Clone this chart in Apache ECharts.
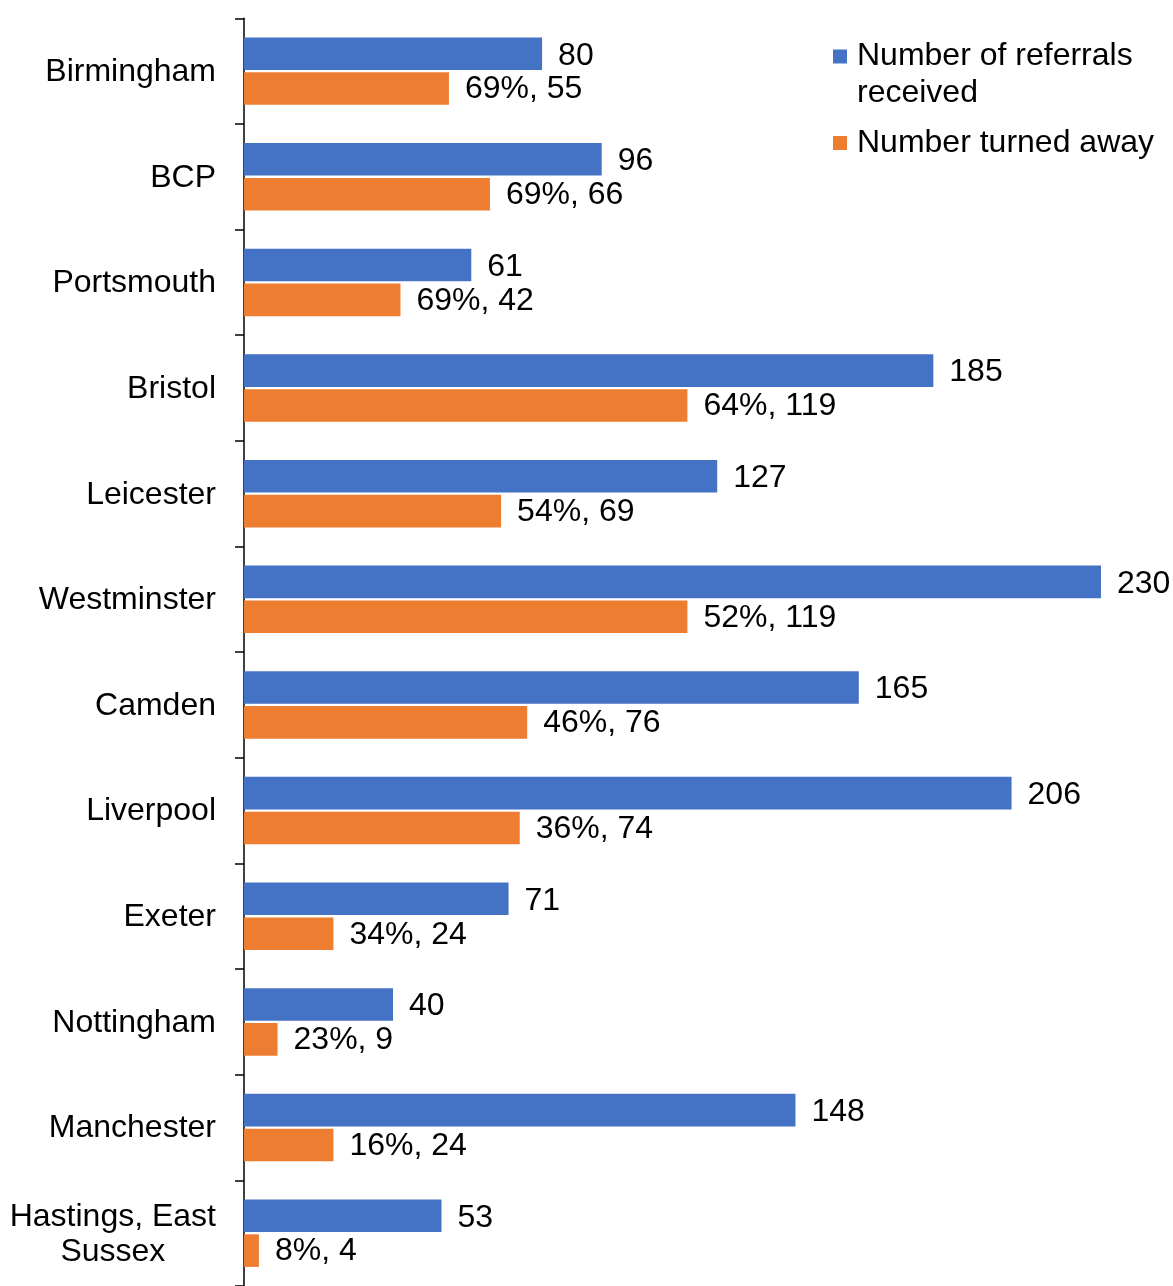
<!DOCTYPE html>
<html>
<head>
<meta charset="utf-8">
<script src="https://cdn.jsdelivr.net/npm/echarts@6/dist/echarts.min.js"></script>
<style>
  html, body { margin: 0; padding: 0; background: #fff; }
  #chart { width: 1173px; height: 1286px; }
</style>
</head>
<body>
<div id="chart"></div>
<script>
// Local authorities, top to bottom
const categories = [
  'Birmingham', 'BCP', 'Portsmouth', 'Bristol', 'Leicester', 'Westminster',
  'Camden', 'Liverpool', 'Exeter', 'Nottingham', 'Manchester', 'Hastings, East\nSussex'
];
// Referrals received per area
const referrals = [80, 96, 61, 185, 127, 230, 165, 206, 71, 40, 148, 53];
// Referrals turned away per area, and that count as a share of referrals
const turnedAway = [55, 66, 42, 119, 69, 119, 76, 74, 24, 9, 24, 4];
const turnedAwayPct = [69, 69, 69, 64, 54, 52, 46, 36, 34, 23, 16, 8];

const seriesNames = ['Number of referrals\nreceived', 'Number turned away'];

const FONT = 'Liberation Sans, Arial, sans-serif';
const FS = 32;
const BLUE = '#4472C4';
const ORANGE = '#ED7D31';

const chart = echarts.init(document.getElementById('chart'), null, { renderer: 'canvas' });

const legendText = { color: '#000', fontSize: FS, fontFamily: FONT, lineHeight: 37, padding: [0, 0, 0, 5] };

chart.setOption({
  animation: false,
  backgroundColor: '#fff',
  grid: { left: 244, right: 72, top: 18.3, height: 1271, containLabel: false },
  legend: [
    {
      data: [seriesNames[0]],
      left: 833, top: 1, padding: 0,
      icon: 'rect', itemWidth: 14, itemHeight: 14,
      // a blank leading line keeps the marker level with the caption's first line
      formatter: name => '\n' + name,
      textStyle: legendText
    },
    {
      data: [seriesNames[1]],
      left: 833, top: 124.5, padding: 0,
      icon: 'rect', itemWidth: 14, itemHeight: 14,
      textStyle: legendText
    }
  ],
  xAxis: {
    type: 'value', min: 0, max: 230,
    show: false, splitLine: { show: false }
  },
  yAxis: {
    type: 'category',
    inverse: true,
    data: categories,
    axisLine: { show: true, lineStyle: { color: '#000', width: 1.5 } },
    axisTick: { show: true, length: 9, lineStyle: { color: '#000', width: 1.5 } },
    axisLabel: {
      margin: 28,
      color: '#000',
      fontSize: FS,
      fontFamily: FONT,
      formatter: v => v.split('\n').map(s => '{c|' + s + '}').join('\n'),
      rich: { c: { align: 'center', fontSize: FS, fontFamily: FONT, color: '#000', lineHeight: 35, padding: [2, 0, 0, 0] } }
    }
  },
  series: [
    {
      name: seriesNames[0],
      type: 'bar',
      data: referrals,
      barWidth: 32.6,
      barGap: '7%',
      itemStyle: { color: BLUE },
      label: {
        show: true, position: 'right', distance: 16, offset: [0, 2],
        color: '#000', fontSize: FS, fontFamily: FONT
      }
    },
    {
      name: seriesNames[1],
      type: 'bar',
      data: turnedAway,
      barWidth: 32.6,
      barGap: '7%',
      itemStyle: { color: ORANGE },
      label: {
        show: true, position: 'right', distance: 16, offset: [0, 1],
        color: '#000', fontSize: FS, fontFamily: FONT,
        formatter: p => turnedAwayPct[p.dataIndex] + '%, ' + p.value
      }
    }
  ]
});
</script>
</body>
</html>
